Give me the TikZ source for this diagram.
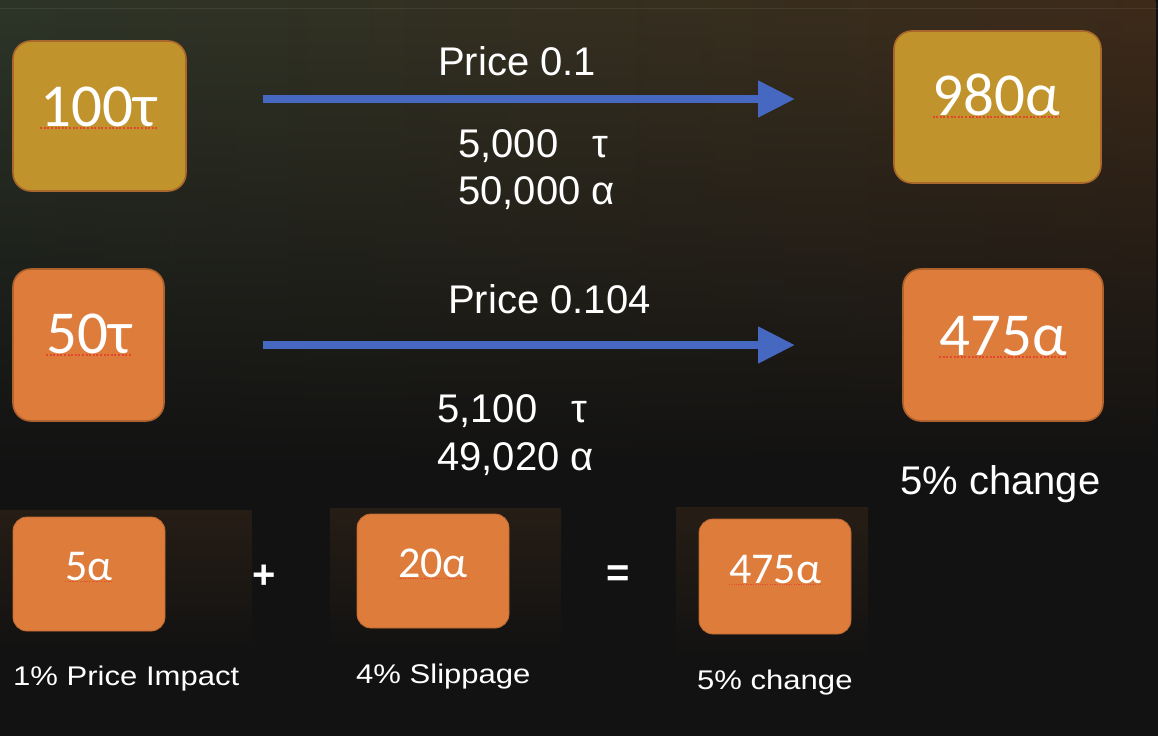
\documentclass[tikz,border=0pt]{standalone}
\usepackage{fontspec}
\setmainfont{Liberation Sans}
\newfontfamily\boxfont{Carlito}
\newfontfamily\smallsans[FakeStretch=1.15]{Liberation Sans}
\usetikzlibrary{arrows.meta,fadings}
\definecolor{bgbase}{HTML}{121212}
\definecolor{bgleft}{HTML}{2D3528}
\definecolor{bgmid}{HTML}{4C4630}
\definecolor{bgright}{HTML}{3E2B1A}
\definecolor{gold}{HTML}{C1932D}
\definecolor{goldline}{HTML}{A9672B}
\definecolor{orng}{HTML}{DD7C3B}
\definecolor{orngline}{HTML}{B0622C}
\definecolor{flowblue}{HTML}{4668C1}
\definecolor{spellred}{HTML}{E4452F}
\definecolor{pastetop}{HTML}{261D15}
\tikzfading[name=fadedown, top color=transparent!0, bottom color=transparent!100]
\begin{document}
\begin{tikzpicture}[x=1pt,y=-1pt,
  goldbox/.style={draw=goldline, line width=1.6pt, fill=gold, rounded corners=18pt, inner sep=0},
  orangebox/.style={draw=orngline, line width=1.6pt, fill=orng, rounded corners=18pt, inner sep=0},
  pastebox/.style={draw=orng!85!black, line width=0.8pt, fill=orng, rounded corners=14pt, inner sep=0},
  bigval/.style={text=white, inner sep=0, anchor=base, font=\boxfont\fontsize{61}{61}\selectfont},
  smallval/.style={text=white, inner sep=0, anchor=base, font=\boxfont\fontsize{44}{44}\selectfont},
  lbl/.style={text=white, inner sep=0, anchor=base west, font=\fontsize{40}{48}\selectfont},
  smalllbl/.style={text=white, inner sep=0, anchor=base west, font=\smallsans\fontsize{27}{32}\selectfont},
  opsign/.style={text=white, inner sep=0, font=\bfseries\fontsize{40}{40}\selectfont},
  flow/.style={draw=flowblue, line width=8pt, -{Triangle[length=37pt,width=35pt]}},
  spell/.style={draw=spellred, line width=2pt, dash pattern=on 2pt off 1.6pt},
  spellthin/.style={draw=spellred, line width=1.2pt, dash pattern=on 1.2pt off 1.2pt, opacity=0.85}
]
\useasboundingbox (0,0) rectangle (1158,736);
% background
\fill[bgbase] (0,0) rectangle (1158,736);
\shade[left color=bgleft, middle color=bgmid, right color=bgright, path fading=fadedown] (0,0) rectangle (1158,470);
\draw[white, opacity=0.07, line width=1pt] (0,8) -- (1158,8);
% pasted image backgrounds
\shade[top color=pastetop, bottom color=bgbase] (0,510) rectangle (252,650);
\shade[top color=pastetop, bottom color=bgbase] (330,508) rectangle (561,650);
\shade[top color=pastetop, bottom color=bgbase] (676,507) rectangle (868,660);

% row 1
\node[goldbox, minimum width=173pt, minimum height=150pt] (b1) at (99.5,116) {};
\node[bigval] (t1) at (98.5,126) {100τ};
\draw[spell] ([yshift=-2pt]t1.base west) -- ([yshift=-2pt]t1.base east);
\node[goldbox, minimum width=207pt, minimum height=152pt] (b2) at (997.5,107) {};
\node[bigval] (t2) at (996.5,115) {980α};
\draw[spell] ([yshift=-2pt]t2.base west) -- ([yshift=-2pt]t2.base east);
\coordinate (a1s) at (263,99);
\coordinate (a1e) at (795,99);
\draw[flow] (a1s) -- (a1e);
\node[lbl] (p1) at (438,75) {Price 0.1};
\node[lbl] (r1a) at (458,157) {\makebox[3.36em][l]{5,000}τ};
\node[lbl] (r1b) at (458,204) {50,000 α};

% row 2
\node[orangebox, minimum width=151pt, minimum height=152pt] (b3) at (88.5,345) {};
\node[bigval] (t3) at (89,353) {50τ};
\draw[spell] ([yshift=-2pt]t3.base west) -- ([yshift=-2pt]t3.base east);
\node[orangebox, minimum width=200pt, minimum height=152pt] (b4) at (1003,345) {};
\node[bigval] (t4) at (1003,355) {475α};
\draw[spell] ([yshift=-2pt]t4.base west) -- ([yshift=-2pt]t4.base east);
\coordinate (a2s) at (263,345);
\coordinate (a2e) at (795,345);
\draw[flow] (a2s) -- (a2e);
\node[lbl] (p2) at (448,313) {Price 0.104};
\node[lbl] (r2a) at (437,422) {\makebox[3.36em][l]{5,100}τ};
\node[lbl] (r2b) at (437,470) {49,020 α};
\node[lbl] (ch1) at (900,494) {5\% change};

% bottom row
\node[pastebox, minimum width=152pt, minimum height=114pt] (b5) at (89,574) {};
\node[smallval] (t5) at (89,580) {5α};
\draw[spellthin] ([yshift=-1.5pt]t5.base west) -- ([yshift=-1.5pt]t5.base east);
\node[smalllbl] (l5) at (13,685) {1\% Price Impact};
\node[opsign] (plus) at (264,577) {+};
\node[pastebox, minimum width=152pt, minimum height=114pt] (b6) at (433,571) {};
\node[smallval] (t6) at (433,577) {20α};
\draw[spellthin] ([yshift=-1.5pt]t6.base west) -- ([yshift=-1.5pt]t6.base east);
\node[smalllbl] (l6) at (356,683) {4\% Slippage};
\node[opsign] (eq) at (618,576) {=};
\node[pastebox, minimum width=152pt, minimum height=115pt] (b7) at (775,576.5) {};
\node[smallval] (t7) at (775,583) {475α};
\draw[spellthin] ([yshift=-1.5pt]t7.base west) -- ([yshift=-1.5pt]t7.base east);
\node[smalllbl] (l7) at (697,689) {5\% change};
\end{tikzpicture}
\end{document}
